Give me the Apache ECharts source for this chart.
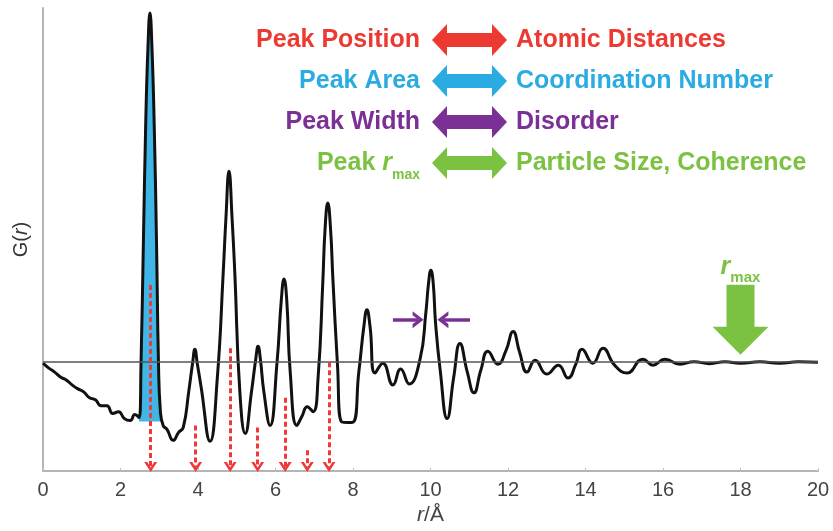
<!DOCTYPE html>
<html>
<head>
<meta charset="UTF-8">
<title>G(r) peak information</title>
<style>
  html, body { margin: 0; padding: 0; background: #fff; }
  #chart { width: 833px; height: 531px; }
</style>
</head>
<body>
<div id="chart"></div>
<script src="https://cdn.jsdelivr.net/npm/echarts@6/dist/echarts.min.js"></script>
<script>
// pair distribution function
var rVals = [0, 0.15, 0.30, 0.45, 0.60, 0.75, 0.90, 1.05, 1.20, 1.35, 1.50, 1.65, 1.80, 1.95, 2.10, 2.25, 2.37, 2.48,
  2.53, 2.59, 2.65, 2.71, 2.76, 2.81, 2.87, 2.93, 2.98, 3.03, 3.10, 3.20, 3.36, 3.50, 3.62, 3.76, 3.86, 3.92, 3.98, 4.08, 4.31,
  4.50, 4.65, 4.72, 4.80, 4.88, 4.95, 5.08, 5.22, 5.38, 5.49, 5.55, 5.61, 5.70, 5.86, 6.04, 6.15, 6.22, 6.29, 6.38, 6.55, 6.68, 6.82, 6.97, 7.10, 7.22,
  7.28, 7.35, 7.42, 7.48, 7.60, 7.70, 7.97, 8.15, 8.28, 8.36, 8.44, 8.57, 8.77, 9.03, 9.23, 9.45, 9.73, 9.88, 9.95, 10.01, 10.07, 10.13, 10.25, 10.43,
  10.60, 10.76, 10.95, 11.12, 11.30, 11.48, 11.74, 11.95, 12.13, 12.30, 12.49, 12.70, 13.00, 13.30, 13.55, 13.75,
  13.91, 14.19, 14.45, 14.75, 15.07, 15.48, 15.74, 16.05, 16.44, 16.80, 17.20, 17.60, 18.00, 18.50, 19.00, 19.50, 20.00];
var gVals = [-0.1, -0.6, -1.0, -1.5, -1.8, -2.3, -2.7, -3.0, -3.6, -3.8, -4.4, -4.4, -5.2, -5.0, -5.7, -5.9, -5.3, -5.6,
  0, 12, 24, 32, 35.3, 32, 24, 12, 0, -5.0, -6.4, -6.8, -7.9, -7.1, -6.6, -3.0, -0.1, 1.3, -0.1, -2.5, -8.0,
  -1.5, 9.0, 14.5, 19.3, 14.5, 9.0, -3.0, -7.2, -3.0, 0.3, 1.6, 0.3, -3.0, -6.4, 0, 6.3, 8.4, 6.3, -1.0, -6.4, -5.5, -4.5, -5.0, -1.5, 8.0,
  13.5, 16.1, 13.5, 8.5, -0.3, -6.0, -6.1, -1.0, 3.6, 5.3, 3.6, -1.1, -0.1, -2.3, -0.7, -2.2, 0.3, 5.0, 8.0, 9.3, 8.0, 4.0, -0.8, -5.7,
  -1.5, 1.9, -1.0, -3.1, -0.8, 1.1, -0.2, 1.2, 3.1, 1.0, -1.0, 0.2, -1.2, -0.3, -1.6, -0.2,
  1.3, -0.1, 1.4, -0.3, -1.1, 0.3, -0.3, 0.3, -0.2, 0.05, -0.15, 0.05, -0.1, 0.05, -0.1, 0.05, 0];

// shaded first peak
var shadeFrom = 2.48, shadeTo = 3.10, shadeBase = -6.0;

// red dashed arrows (peak positions)
var posArrowR = [2.78, 3.94, 4.83, 5.54, 6.25, 6.82, 7.38];
var posArrowTop = [7.8, -6.4, 1.4, -6.6, -3.6, -8.9, 0];
var posArrowEnd = -10.6;

// purple width arrows: [tail, tip]
var widthArrows = [[9.03, 9.68], [11.02, 10.32]];
var widthArrowG = 4.3;

// green r_max arrow
var rmaxR = 18, rmaxArrowG = 4.3, rmaxLabelG = 9.6;

var xMin = 0, xMax = 20, xStep = 2;
var yMin = -11, yMax = 35.8;

var legendRows = [
  { left: 'Peak Position', right: 'Atomic Distances', color: '#ec3a32' },
  { left: 'Peak Area', right: 'Coordination Number', color: '#2aabe2' },
  { left: 'Peak Width', right: 'Disorder', color: '#7a3095' },
  { left: 'Peak ', right: 'Particle Size, Coherence', color: '#7cc242', rmax: true }
];

var chevron = 'path://M5,0 L10,9 L7.6,9 L5,4.2 L2.4,9 L0,9 Z';
var blockArrow = 'path://M14,0 L42,0 L42,42 L56,42 L28,70 L0,42 L14,42 Z';
var FONT = 'Liberation Sans';
var LF = 'bold 25px "' + FONT + '"';

var curve = rVals.map(function (r, i) { return [r, gVals[i]]; });
var shade = curve.filter(function (p) { return p[0] >= shadeFrom && p[0] <= shadeTo; });

var marks = [{ yAxis: 0, lineStyle: { color: '#555', width: 1.5, type: 'solid' } }];
posArrowR.forEach(function (r, i) {
  marks.push([
    { coord: [r, posArrowTop[i]], symbol: 'none', lineStyle: { color: '#f0383a', width: 3, type: [5, 3] } },
    { coord: [r, posArrowEnd], symbol: chevron, symbolSize: [13, 10] }
  ]);
});
widthArrows.forEach(function (a) {
  marks.push([
    { coord: [a[0], widthArrowG], symbol: 'none', lineStyle: { color: '#7a3095', width: 3.5, type: 'solid' } },
    { coord: [a[1], widthArrowG], symbol: chevron, symbolSize: [17, 11] }
  ]);
});

var graphics = [];
legendRows.forEach(function (row, i) {
  var cy = 40 + i * 41;
  var leftText = row.rmax ? '{a|Peak }{r|r}{s|max}' : row.left;
  graphics.push({
    type: 'text', z: 10,
    style: {
      text: leftText, x: 420, y: cy, align: 'right', verticalAlign: 'middle',
      font: LF, fill: row.color,
      rich: {
        a: { font: LF, fill: row.color, lineHeight: 30 },
        r: { font: 'italic ' + LF, fill: row.color, lineHeight: 30 },
        s: { font: 'bold 14px "' + FONT + '"', fill: row.color, lineHeight: 14, verticalAlign: 'bottom', padding: [0, 0, -4, 0] }
      }
    }
  });
  var x0 = 432, x1 = 507, h = 16, sh = 7, hl = 15;
  graphics.push({
    type: 'polygon', z: 10,
    shape: { points: [[x0, cy], [x0 + hl, cy - h], [x0 + hl, cy - sh], [x1 - hl, cy - sh], [x1 - hl, cy - h], [x1, cy],
      [x1 - hl, cy + h], [x1 - hl, cy + sh], [x0 + hl, cy + sh], [x0 + hl, cy + h]] },
    style: { fill: row.color }
  });
  graphics.push({
    type: 'text', z: 10,
    style: { text: row.right, x: 516, y: cy, align: 'left', verticalAlign: 'middle', font: LF, fill: row.color }
  });
});

var chart = echarts.init(document.getElementById('chart'));
chart.setOption({
  animation: false,
  grid: { left: 43, right: 15, top: 8, bottom: 55 },
  xAxis: {
    type: 'value', min: xMin, max: xMax, interval: xStep,
    axisLine: { onZero: false, lineStyle: { color: '#b5b5b5', width: 2 } },
    axisTick: { inside: true, length: 3, lineStyle: { color: '#c0c0c0' } },
    axisLabel: { fontFamily: FONT, fontSize: 20, color: '#444', margin: 9 },
    splitLine: { show: false },
    name: '{i|r}/Å', nameLocation: 'middle', nameGap: 34,
    nameTextStyle: {
      fontFamily: FONT, fontSize: 21, color: '#444',
      rich: { i: { fontFamily: FONT, fontSize: 21, color: '#444', fontStyle: 'italic' } }
    }
  },
  yAxis: {
    type: 'value', min: yMin, max: yMax,
    axisLine: { show: true, onZero: false, lineStyle: { color: '#b5b5b5', width: 2 } },
    axisTick: { show: false }, axisLabel: { show: false }, splitLine: { show: false },
    name: 'G({i|r})', nameLocation: 'middle', nameRotate: 90, nameGap: 12,
    nameTextStyle: {
      fontFamily: FONT, fontSize: 20, color: '#333',
      rich: { i: { fontFamily: FONT, fontSize: 20, color: '#333', fontStyle: 'italic' } }
    }
  },
  graphic: graphics,
  series: [
    {
      type: 'line', data: shade, smooth: 0.5, showSymbol: false, silent: true, z: 1,
      lineStyle: { width: 0 }, areaStyle: { color: '#3fb6e6', opacity: 1, origin: shadeBase }
    },
    {
      type: 'line', data: curve, smooth: 0.5, showSymbol: false, silent: true, z: 3,
      lineStyle: { color: '#111', width: 3 },
      markLine: { silent: true, animation: false, symbol: ['none', 'none'], label: { show: false }, data: marks },
      markPoint: {
        silent: true, animation: false,
        data: [
          { coord: [rmaxR, rmaxArrowG], symbol: blockArrow, symbolSize: [56, 70],
            itemStyle: { color: '#7cc242' }, label: { show: false } },
          { coord: [rmaxR, rmaxLabelG], symbol: 'rect', symbolSize: 1,
            itemStyle: { color: 'rgba(0,0,0,0)' },
            label: {
              show: true, position: 'inside', formatter: '{r|r}{s|max}',
              rich: {
                r: { fontFamily: FONT, fontWeight: 'bold', fontStyle: 'italic', fontSize: 25, color: '#7cc242', lineHeight: 28 },
                s: { fontFamily: FONT, fontWeight: 'bold', fontSize: 15, color: '#7cc242', lineHeight: 15, verticalAlign: 'bottom', padding: [0, 0, -4, 0] }
              }
            } }
        ]
      }
    }
  ]
});
</script>
</body>
</html>
